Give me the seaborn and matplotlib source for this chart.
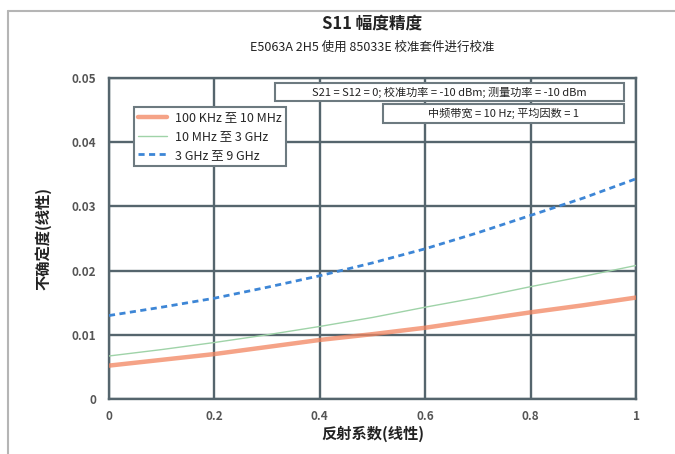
import numpy as np
import matplotlib
matplotlib.use("Agg")
import matplotlib.pyplot as plt
import seaborn as sns
import pandas as pd
from matplotlib.patches import Rectangle
from matplotlib.lines import Line2D

# data
gamma = [0.0, 0.1, 0.2, 0.3, 0.4, 0.5, 0.6, 0.7, 0.8, 0.9, 1.0]
low_band = [0.0052, 0.0061, 0.0070, 0.0081, 0.0092, 0.0101, 0.0111, 0.0123, 0.0135, 0.0146, 0.0158]
mid_band = [0.0067, 0.0077, 0.0088, 0.0100, 0.0113, 0.0127, 0.0143, 0.0158, 0.0175, 0.0191, 0.0208]
high_band = [0.0130, 0.0143, 0.0157, 0.0174, 0.0192, 0.0212, 0.0234, 0.0259, 0.0286, 0.0313, 0.0343]
series_names = ["100 KHz 至 10 MHz", "10 MHz 至 3 GHz", "3 GHz 至 9 GHz"]
x_ticks = [0, 0.2, 0.4, 0.6, 0.8, 1]
x_tick_labels = ["0", "0.2", "0.4", "0.6", "0.8", "1"]
y_ticks = [0, 0.01, 0.02, 0.03, 0.04, 0.05]
y_tick_labels = ["0", "0.01", "0.02", "0.03", "0.04", "0.05"]

sns.set_theme(style="white")
plt.rcParams['font.family'] = ['Noto Sans CJK SC', 'DejaVu Sans']
plt.rcParams['axes.unicode_minus'] = False

df = pd.DataFrame({
    "gamma": gamma * 3,
    "u": low_band + mid_band + high_band,
    "band": [series_names[0]] * len(gamma) + [series_names[1]] * len(gamma) + [series_names[2]] * len(gamma),
})

W, H = 675, 454
fig = plt.figure(figsize=(6.75, 4.54), dpi=100)
ax = fig.add_axes([109 / W, 1 - 399 / H, (636 - 109) / W, (399 - 78) / H])

grid_col = "#55656d"
colors = {series_names[0]: "#f2845f", series_names[1]: "#9fd3a8", series_names[2]: "#3d86d6"}
widths = {series_names[0]: 3.2, series_names[1]: 1.0, series_names[2]: 2.0}
alphas = {series_names[0]: 0.75, series_names[1]: 1.0, series_names[2]: 1.0}
blue_dash = [2.2, 1.6]

for name in series_names:
    sub = df[df["band"] == name]
    sns.lineplot(data=sub, x="gamma", y="u", ax=ax, color=colors[name],
                 lw=widths[name], alpha=alphas[name], zorder=3)
ax.lines[2].set_dashes(blue_dash)

ax.set_xlim(0, 1)
ax.set_ylim(0, 0.05)
ax.set_xticks(x_ticks)
ax.set_xticklabels(x_tick_labels)
ax.set_yticks(y_ticks)
ax.set_yticklabels(y_tick_labels)
ax.grid(True, color=grid_col, lw=1.7)
for s in ax.spines.values():
    s.set_color(grid_col)
    s.set_linewidth(1.7)
ax.tick_params(axis="both", length=0, labelsize=8.5, labelcolor="#555555")
for lab in ax.get_xticklabels() + ax.get_yticklabels():
    lab.set_fontweight("bold")
ax.tick_params(axis="x", pad=8)
ax.tick_params(axis="y", pad=9)

ax.set_xlabel("反射系数(线性)", fontsize=11, fontweight="bold", color="#222222", labelpad=2)
ax.set_ylabel("不确定度(线性)", fontsize=11, fontweight="bold", color="#222222", labelpad=15)

fig.text(372 / W, 1 - 24 / H, "S11 幅度精度", ha="center", va="center",
         fontsize=12, fontweight="bold", color="#222222")
fig.text(372 / W, 1 - 47 / H, "E5063A 2H5 使用 85033E 校准套件进行校准", ha="center", va="center",
         fontsize=9, color="#222222")

# legend
handles = [Line2D([], [], color=colors[n], lw=widths[n], alpha=alphas[n]) for n in series_names]
handles[2].set_dashes(blue_dash)
leg = ax.legend(handles, series_names, loc="upper left",
                bbox_to_anchor=((134 - 109) / 527, (399 - 107) / 321),
                fontsize=9, frameon=True, fancybox=False, handlelength=2.3,
                borderpad=0.35, labelspacing=0.45, borderaxespad=0, handletextpad=0.6)
leg.get_frame().set_edgecolor("#6d7a80")
leg.get_frame().set_linewidth(1.5)
leg.get_frame().set_alpha(1)
leg.set_zorder(5)

# annotation boxes (figure pixel coordinates)
def note_box(x0, y0, x1, y1, text):
    rect = Rectangle((x0 / W, 1 - y1 / H), (x1 - x0) / W, (y1 - y0) / H,
                     transform=fig.transFigure, facecolor="white",
                     edgecolor="#6d7a80", lw=1.5, zorder=6)
    fig.patches.append(rect)
    fig.text((x0 + x1) / 2 / W, 1 - (y0 + y1) / 2 / H, text, ha="center", va="center",
             fontsize=8, color="#222222", zorder=7)

note_box(275, 83, 624, 101, "S21 = S12 = 0; 校准功率 = -10 dBm; 测量功率 = -10 dBm")
note_box(383, 104, 624, 123, "中频带宽 = 10 Hz; 平均因数 = 1")

# outer frame
fig.add_artist(Line2D([8 / W, 1], [1 - 11 / H, 1 - 11 / H], transform=fig.transFigure,
                      color="#b5b5b5", lw=1.5))
fig.add_artist(Line2D([8 / W, 8 / W], [0, 1 - 11 / H], transform=fig.transFigure,
                      color="#b5b5b5", lw=1.5))

fig.savefig("out.png", dpi=100)
